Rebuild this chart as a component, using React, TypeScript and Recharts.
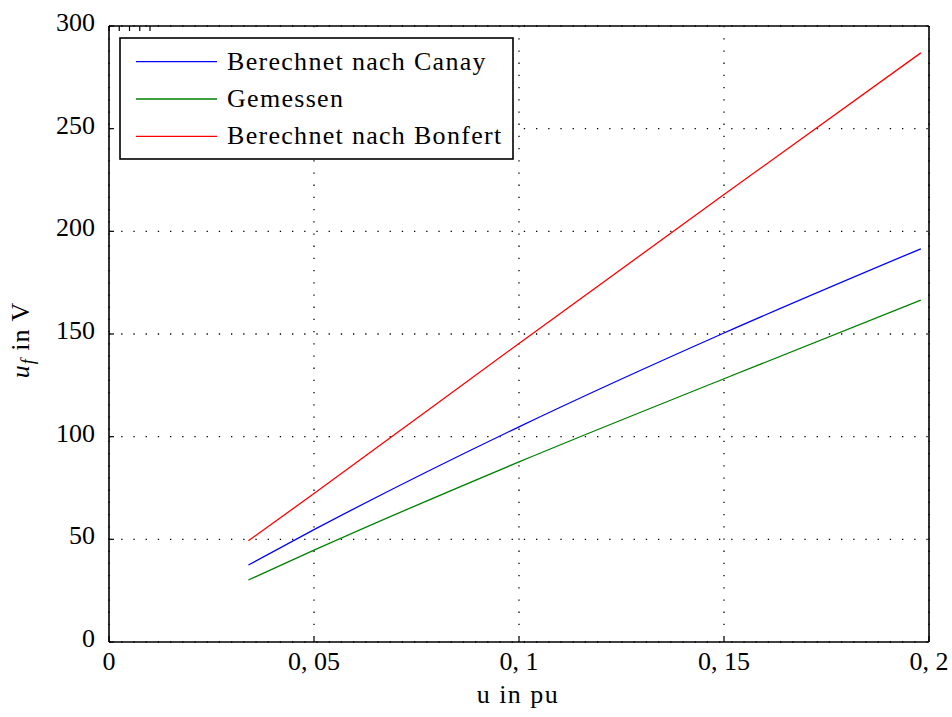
import React from "react";
import { LineChart, Line, XAxis, YAxis, CartesianGrid } from "recharts";

// Field voltage u_f over the per-unit voltage u
const uPu = [0.034, 0.05, 0.1, 0.15, 0.198];
const canay = [37.5, 54.7, 104.8, 150.5, 191.5];
const gemessen = [30.2, 44.7, 87.7, 128.2, 166.5];
const bonfert = [49.3, 72.3, 145.4, 217.9, 286.9];

const xTicks = [0, 0.05, 0.1, 0.15, 0.2];
const xTickLabels = ["0", "0, 05", "0, 1", "0, 15", "0, 2"];
const yTicks = [0, 50, 100, 150, 200, 250, 300];
const yTickLabels = ["0", "50", "100", "150", "200", "250", "300"];

const seriesNames = [
  "Berechnet nach Canay",
  "Gemessen",
  "Berechnet nach Bonfert",
];
const seriesColors = ["#0000ff", "#008000", "#ff0000"];
const seriesKeys = ["canay", "gemessen", "bonfert"];

const data = uPu.map((u, i) => ({
  u,
  canay: canay[i],
  gemessen: gemessen[i],
  bonfert: bonfert[i],
}));

const FONT = "'Liberation Serif', 'Times New Roman', serif";
const FS = 26;
const TICK_LEN = 5;

const BottomTick = (props: any) => {
  const { x, y, payload, index } = props;
  return (
    <g>
      <line x1={x} x2={x} y1={y} y2={y - TICK_LEN} stroke="#000" strokeWidth={1.2} />
      <text x={x} y={y + 28} textAnchor="middle" fontFamily={FONT} fontSize={FS} fill="#000">
        {xTickLabels[index] ?? String(payload.value)}
      </text>
    </g>
  );
};

const TopTick = (props: any) => {
  const { x, y } = props;
  return <line x1={x} x2={x} y1={y} y2={y + TICK_LEN} stroke="#000" strokeWidth={1.2} />;
};

const LeftTick = (props: any) => {
  const { x, y, payload, index } = props;
  return (
    <g>
      <line x1={x} x2={x + TICK_LEN} y1={y} y2={y} stroke="#000" strokeWidth={1.2} />
      <text x={x - 14} y={y + 5} textAnchor="end" fontFamily={FONT} fontSize={FS} fill="#000">
        {yTickLabels[index] ?? String(payload.value)}
      </text>
    </g>
  );
};

const RightTick = (props: any) => {
  const { x, y } = props;
  return <line x1={x} x2={x - TICK_LEN} y1={y} y2={y} stroke="#000" strokeWidth={1.2} />;
};

export default function App() {
  return (
    <div style={{ position: "absolute", left: 0, top: 0, width: 952, height: 717, background: "#fff" }}>
      <LineChart
        width={952}
        height={717}
        data={data}
        margin={{ top: 25, right: 22, bottom: 74, left: 108 }}
      >
        <CartesianGrid stroke="#000" strokeWidth={1.3} strokeDasharray="1.3 10.9" />
        <XAxis
          dataKey="u"
          type="number"
          domain={[0, 0.2]}
          ticks={xTicks}
          height={1}
          tickSize={0}
          tickMargin={0}
          tickLine={false}
          tick={<BottomTick />}
          axisLine={{ stroke: "#000", strokeWidth: 1.6 }}
          allowDataOverflow
          interval={0}
        />
        <XAxis
          xAxisId="top"
          orientation="top"
          type="number"
          domain={[0, 0.2]}
          ticks={xTicks}
          height={1}
          tickSize={0}
          tickMargin={0}
          tickLine={false}
          tick={<TopTick />}
          axisLine={{ stroke: "#000", strokeWidth: 1.6 }}
          interval={0}
        />
        <YAxis
          type="number"
          domain={[0, 300]}
          ticks={yTicks}
          width={1}
          tickSize={0}
          tickMargin={0}
          tickLine={false}
          tick={<LeftTick />}
          axisLine={{ stroke: "#000", strokeWidth: 1.6 }}
          interval={0}
        />
        <YAxis
          yAxisId="right"
          orientation="right"
          type="number"
          domain={[0, 300]}
          ticks={yTicks}
          width={1}
          tickSize={0}
          tickMargin={0}
          tickLine={false}
          tick={<RightTick />}
          axisLine={{ stroke: "#000", strokeWidth: 1.6 }}
          interval={0}
        />
        {seriesKeys.map((k, i) => (
          <Line
            key={k}
            type="monotone"
            dataKey={k}
            name={seriesNames[i]}
            stroke={seriesColors[i]}
            strokeWidth={1.3}
            dot={false}
            isAnimationActive={false}
          />
        ))}
        {/* legend box */}
        <g>
          <rect x={120} y={38} width={393} height={121} fill="#fff" stroke="#000" strokeWidth={1.6} />
          {seriesNames.map((name, i) => {
            const cy = 61.7 + i * 37.3;
            return (
              <g key={name}>
                <line x1={136} x2={217} y1={cy} y2={cy} stroke={seriesColors[i]} strokeWidth={1.3} />
                <text
                  x={227}
                  y={cy + 8}
                  fontFamily={FONT}
                  fontSize={FS}
                  letterSpacing={1.3}
                  fill="#000"
                >
                  {name}
                </text>
              </g>
            );
          })}
        </g>
        <text
          x={518}
          y={703}
          textAnchor="middle"
          fontFamily={FONT}
          fontSize={FS}
          letterSpacing={1.5}
          fill="#000"
        >
          u in pu
        </text>
        <text
          transform="translate(29, 340) rotate(-90)"
          textAnchor="middle"
          fontFamily={FONT}
          fontSize={FS}
          letterSpacing={1}
          fill="#000"
        >
          <tspan fontStyle="italic">u</tspan>
          <tspan fontStyle="italic" fontSize={18} dy={5}>f</tspan>
          <tspan dy={-5}> in V</tspan>
        </text>
      </LineChart>
    </div>
  );
}
